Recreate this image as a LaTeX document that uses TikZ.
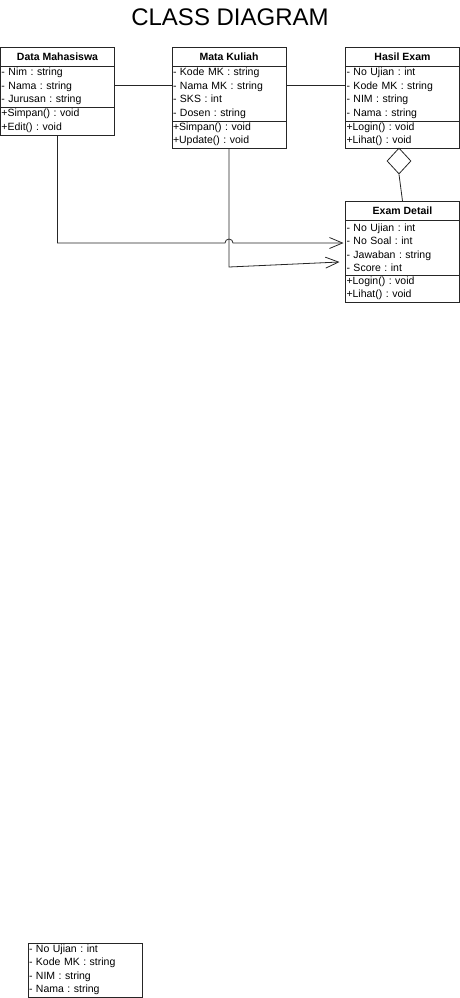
\documentclass[tikz,border=0pt]{standalone}
\usepackage{fontspec}
\setmainfont{Liberation Sans}
\frenchspacing
\usetikzlibrary{positioning, shapes.geometric, arrows.meta}
\tikzstyle{cls}=[draw,black!85,text=black,line width=.8pt,minimum width=114pt,inner sep=0pt,outer sep=0pt]
\tikzstyle{hdr}=[cls,minimum height=19pt,font=\bfseries\fontsize{10.5}{13}\selectfont]
\tikzstyle{sec}=[cls,text width=112pt,inner xsep=1pt,align=left,font=\fontsize{10.5}{13.5}\selectfont]
\tikzstyle{lnk}=[line width=.8pt,black!85]
\tikzstyle{nav}=[lnk,-{Straight Barb[length=13pt,width=11pt]}]
\tikzstyle{agr}=[draw,diamond,black!85,line width=.8pt,minimum width=24pt,minimum height=26pt,inner sep=0pt]

\begin{document}
\begin{tikzpicture}[x=1pt,y=-1pt]
\useasboundingbox (0,0) rectangle (460,998);
\node[font=\fontsize{24}{28}\selectfont] (title) at (230,17) {CLASS DIAGRAM};
% Data Mahasiswa
\node[hdr,anchor=north west] (dmT) at (0.5,47) {Data Mahasiswa};
\node[sec,minimum height=41pt,below=0pt of dmT] (dmA) {- Nim : string\\- Nama : string\\- Jurusan : string};
\node[sec,minimum height=28pt,below=0pt of dmA] (dmM) {+Simpan() : void\\+Edit() : void};
% Mata Kuliah
\node[hdr,anchor=north west] (mkT) at (172,47) {Mata Kuliah};
\node[sec,minimum height=55pt,below=0pt of mkT] (mkA) {- Kode MK : string\\- Nama MK : string\\- SKS : int\\- Dosen : string};
\node[sec,minimum height=27pt,below=0pt of mkA] (mkM) {+Simpan() : void\\+Update() : void};
% Hasil Exam
\node[hdr,anchor=north west] (heT) at (345.5,47) {Hasil Exam};
\node[sec,minimum height=55pt,below=0pt of heT] (heA) {- No Ujian : int\\- Kode MK : string\\- NIM : string\\- Nama : string};
\node[sec,minimum height=27pt,below=0pt of heA] (heM) {+Login() : void\\+Lihat() : void};
% Exam Detail
\node[hdr,anchor=north west] (edT) at (345.5,201) {Exam Detail};
\node[sec,minimum height=55pt,below=0pt of edT] (edA) {- No Ujian : int\\- No Soal : int\\- Jawaban : string\\- Score : int};
\node[sec,minimum height=27pt,below=0pt of edA] (edM) {+Login() : void\\+Lihat() : void};
% loose box
\node[sec,minimum height=54pt,anchor=north west] (hx) at (28,943) {- No Ujian : int\\- Kode MK : string\\- NIM : string\\- Nama : string};
\node[agr] (agg) at (399,161) {};
\path (mkM.south) ++(0,95) coordinate (hop);
\draw[lnk] ([yshift=1.5pt]dmA.east) -- ([yshift=8.5pt]mkA.west);
\draw[lnk] ([yshift=8.5pt]mkA.east) -- ([yshift=8.5pt]heA.west);
\draw[lnk] (agg.south) -- (edT.north);
\draw[nav] (dmM.south) |- ([xshift=-4pt]hop) arc[start angle=180,end angle=0,radius=4pt] -- ([yshift=4.5pt,xshift=-2pt]edA.west);
\draw[nav] (mkM.south) -- ++(0,119) -- ([yshift=-14.5pt,xshift=-6pt]edA.west);
\end{tikzpicture}
\end{document}
